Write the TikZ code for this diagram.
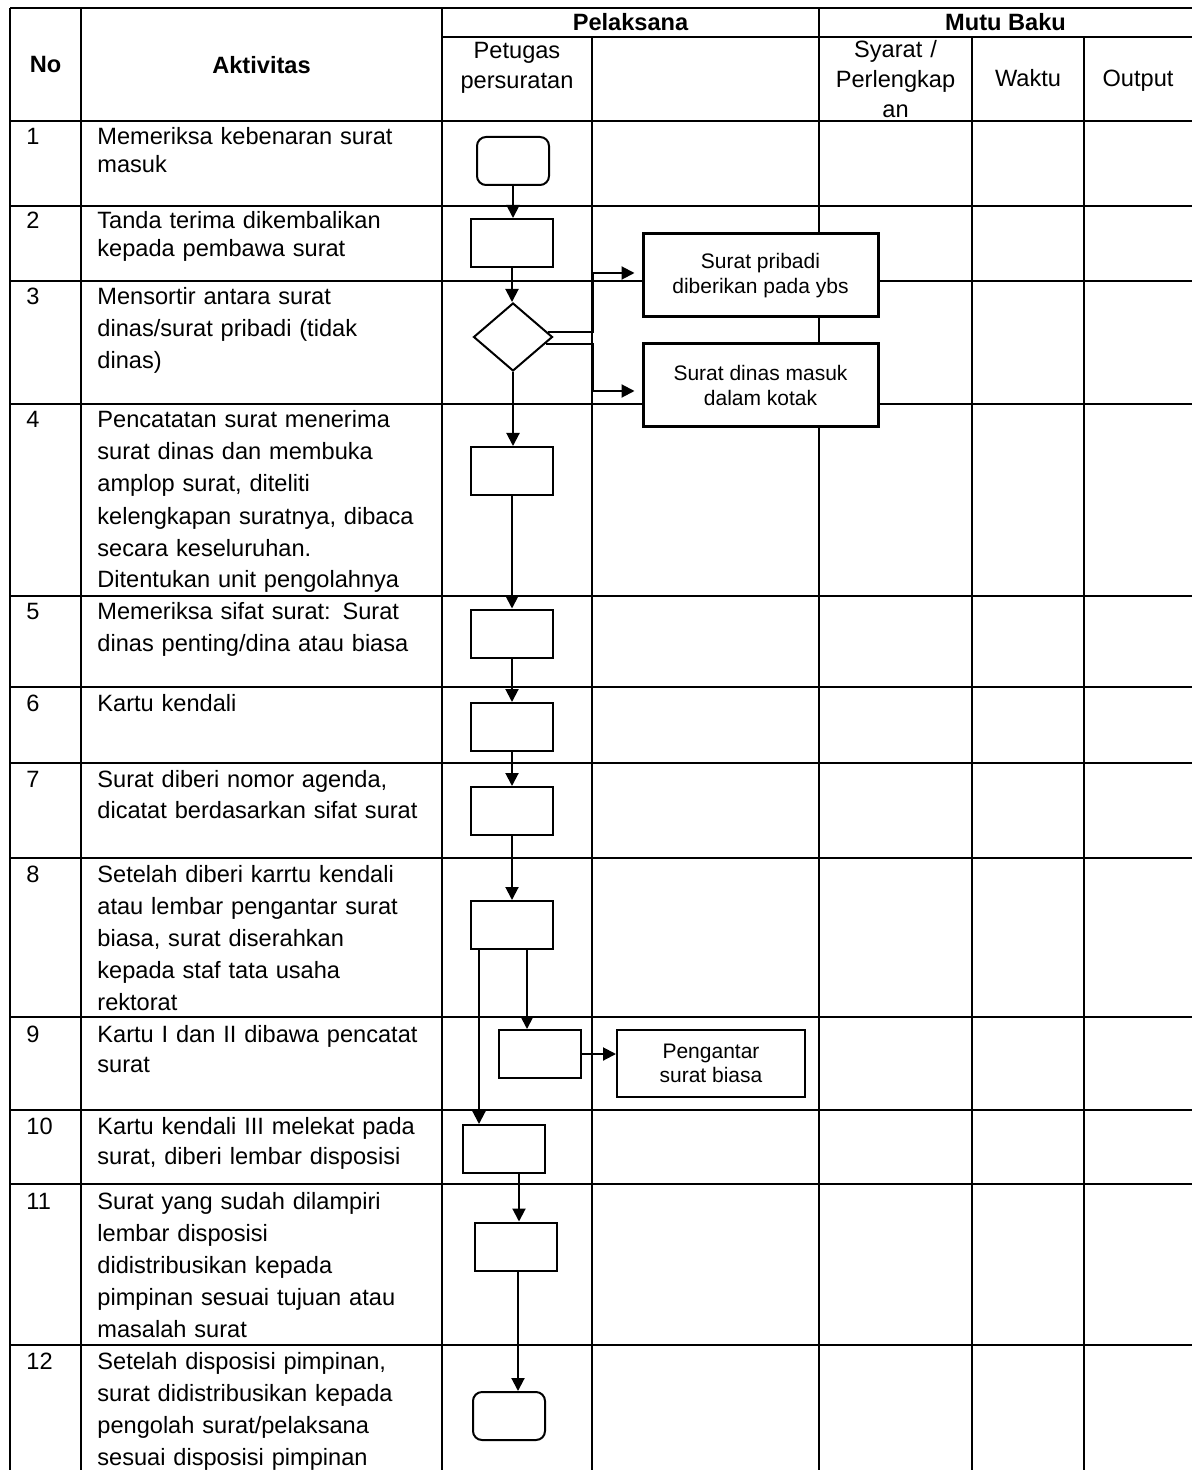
\documentclass[tikz,border=0pt]{standalone}
\usepackage{fontspec}
\setmainfont{Liberation Sans}
\usepackage{tikz}
\usetikzlibrary{shapes.geometric, arrows.meta}
\tikzstyle{arr} = [-{Triangle[width=6.5pt,length=6.5pt]}, line width=1pt]

\begin{document}
\begin{tikzpicture}[x=0.5pt, y=-0.5pt,
    grid/.style={line width=1pt},
    proc/.style={rectangle, draw, line width=1pt, fill=white,
                 minimum width=41pt, minimum height=24pt, inner sep=0pt},
    term/.style={proc, rounded corners=4.5pt, minimum width=36pt},
    dec/.style={diamond, draw, line width=1pt, fill=white,
                minimum width=39.5pt, minimum height=34pt, inner sep=0pt},
    note/.style={rectangle, draw, line width=1.5pt, fill=white, align=center,
                 minimum width=117.5pt, minimum height=41.5pt, inner sep=0pt,
                 font=\fontsize{10.5}{12.5}\selectfont},
    num/.style={anchor=base west, inner sep=0pt, font=\fontsize{11.8}{16}\selectfont},
    act/.style={anchor=base west, inner sep=0pt, align=left, text width=175pt,
                font=\fontsize{11.8}{16}\selectfont},
    head/.style={inner sep=0pt, font=\fontsize{11.8}{15}\selectfont\bfseries},
    sub/.style={anchor=base, inner sep=0pt, align=center, text width=75pt,
                font=\fontsize{11.8}{15}\selectfont}]

  \useasboundingbox (0,0) rectangle (1192,1470);

  % table grid
  \draw[grid] (10,8) -- (1192,8);
  \draw[grid] (442,37) -- (1192,37);
  \foreach \y in {121,206,281,404,596,687,763,858,1017,1110,1184,1345}
    \draw[grid] (10,\y) -- (1192,\y);
  \foreach \x in {10,81,442,819}
    \draw[grid] (\x,8) -- (\x,1470);
  \foreach \x in {592,972,1084}
    \draw[grid] (\x,37) -- (\x,1470);

  % header
  \node[head] (hno)  at (45.5,65)   {No};
  \node[head] (hakt) at (261.5,65)  {Aktivitas};
  \node[head] (hpel) at (630.5,22)  {Pelaksana};
  \node[head] (hmut) at (1005.5,22) {Mutu Baku};
  \node[sub]  (hpet) at (517,59)    {Petugas\\persuratan};
  \node[sub]  (hsya) at (895.5,58)  {Syarat /\\Perlengkap\\an};
  \node[sub]  (hwak) at (1028,87)   {Waktu};
  \node[sub]  (hout) at (1138,87)   {Output};

  % activities
  \node[num] (n1)  at (26,145)  {1};
  \node[num] (n2)  at (26,229)  {2};
  \node[num] (n3)  at (26,305)  {3};
  \node[num] (n4)  at (26,428)  {4};
  \node[num] (n5)  at (26,619)  {5};
  \node[num] (n6)  at (26,711)  {6};
  \node[num] (n7)  at (26,787)  {7};
  \node[num] (n8)  at (26,882)  {8};
  \node[num] (n9)  at (26,1042) {9};
  \node[num] (n10) at (26,1134) {10};
  \node[num] (n11) at (26,1209) {11};
  \node[num] (n12) at (26,1369) {12};

  \node[act, font=\fontsize{11.8}{14}\selectfont] (a1) at (97,145)
    {Memeriksa kebenaran surat\\masuk};
  \node[act, font=\fontsize{11.8}{14}\selectfont] (a2) at (97,229)
    {Tanda terima dikembalikan\\kepada pembawa surat};
  \node[act] (a3) at (97,305)
    {Mensortir antara surat\\dinas/surat pribadi (tidak\\dinas)};
  \node[act] (a4) at (97,428)
    {Pencatatan surat menerima\\surat dinas dan membuka\\amplop surat, diteliti\\kelengkapan suratnya, dibaca\\secara keseluruhan.\\Ditentukan unit pengolahnya};
  \node[act] (a5) at (97,619)
    {Memeriksa sifat surat: Surat\\dinas penting/dina atau biasa};
  \node[act] (a6) at (97,711)
    {Kartu kendali};
  \node[act, font=\fontsize{11.8}{15.5}\selectfont] (a7) at (97,787)
    {Surat diberi nomor agenda,\\dicatat berdasarkan sifat surat};
  \node[act] (a8) at (97,882)
    {Setelah diberi karrtu kendali\\atau lembar pengantar surat\\biasa, surat diserahkan\\kepada staf tata usaha\\rektorat};
  \node[act, font=\fontsize{11.8}{15}\selectfont] (a9) at (97,1042)
    {Kartu I dan II dibawa pencatat\\surat};
  \node[act, font=\fontsize{11.8}{15}\selectfont] (a10) at (97,1134)
    {Kartu kendali III melekat pada\\surat, diberi lembar disposisi};
  \node[act] (a11) at (97,1209)
    {Surat yang sudah dilampiri\\lembar disposisi\\didistribusikan kepada\\pimpinan sesuai tujuan atau\\masalah surat};
  \node[act] (a12) at (97,1369)
    {Setelah disposisi pimpinan,\\surat didistribusikan kepada\\pengolah surat/pelaksana\\sesuai disposisi pimpinan};

  % flow
  \node[term] (start)   at (513,161)     {};
  \node[proc] (b2)      at (512,243)     {};
  \node[dec]  (d3)      at (513,337)     {};
  \node[note] (pribadi) at (760.5,275.5) {Surat pribadi\\diberikan pada ybs};
  \node[note] (dinas)   at (760.5,385.5) {Surat dinas masuk\\dalam kotak};
  \node[proc] (b4)      at (512,471)     {};
  \node[proc] (b5)      at (512,633.5)   {};
  \node[proc] (b6)      at (512,727)     {};
  \node[proc] (b7)      at (512,811)     {};
  \node[proc] (b8)      at (512,925)     {};
  \node[proc] (b9)      at (540,1054)    {};
  \node[note, line width=1pt, minimum width=94pt, minimum height=33.5pt,
        font=\fontsize{10.5}{12}\selectfont]
              (pengantar) at (711,1063.5) {Pengantar\\surat biasa};
  \node[proc] (b10)     at (504,1149)    {};
  \node[proc] (b11)     at (515.5,1246.5) {};
  \node[term] (finish)  at (509,1416)    {};

  \draw[arr] (start.south) -- (start.south |- b2.north);
  \draw[arr] (b2.south) -- (b2.south |- d3.north);
  \draw[arr] (d3.south) -- (d3.south |- b4.north);
  \draw[arr, shorten >=3.5pt] ([xshift=-3pt,yshift=2.5pt]d3.east) -- ++(45.5,0)
    |- ([yshift=1.25pt]pribadi.west);
  \draw[arr, shorten >=3.5pt] ([xshift=-4pt,yshift=-3.5pt]d3.east) -- ++(47.5,0)
    |- ([yshift=-2.75pt]dinas.west);
  \draw[arr] (b4.south) -- (b4.south |- b5.north);
  \draw[arr] (b5.south) -- (b5.south |- b6.north);
  \draw[arr] (b6.south) -- (b6.south |- b7.north);
  \draw[arr] (b7.south) -- (b7.south |- b8.north);
  \draw[arr] ([xshift=7.5pt]b8.south) -- ([xshift=7.5pt]b8.south |- b9.north);
  \draw[arr] ([xshift=-16.5pt]b8.south) -- ([xshift=-16.5pt]b8.south |- b10.north);
  \draw[arr] (b9.east) -- (b9.east -| pengantar.west);
  \draw[arr] ([xshift=7.5pt]b10.south) -- ([xshift=7.5pt]b10.south |- b11.north);
  \draw[arr] ([xshift=1.25pt]b11.south) -- ([xshift=1.25pt]b11.south |- finish.north);
\end{tikzpicture}
\end{document}
